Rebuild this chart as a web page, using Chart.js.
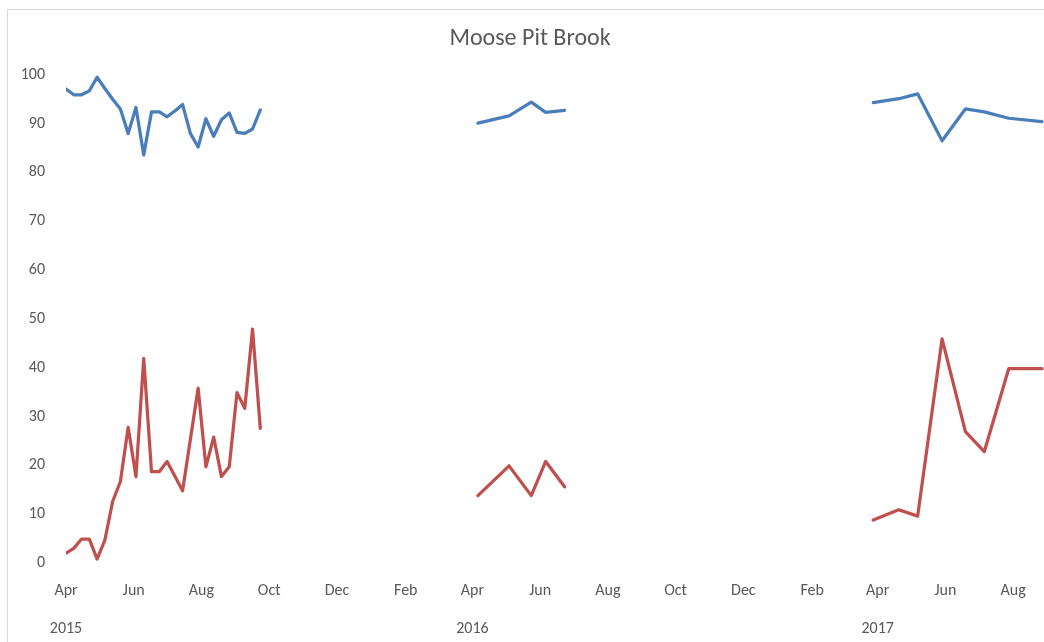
<!DOCTYPE html>
<html>
<head>
<meta charset="utf-8">
<title>Moose Pit Brook</title>
<script src="https://cdn.jsdelivr.net/npm/chart.js@4.4.1/dist/chart.umd.min.js"></script>
<style>
  html, body { margin: 0; padding: 0; background: #ffffff; overflow: hidden; }
  #frame { position: absolute; left: 7px; top: 9px; width: 1056px; height: 660px;
           border: 1px solid #d9d9d9; background: #ffffff; }
  #wrap { position: relative; width: 1056px; height: 632px; }
</style>
</head>
<body>
<div id="frame"><div id="wrap"><canvas id="c"></canvas></div></div>
<script>
// Sampling dates and readings, one block per field season
const dates2015 = ['2015-04-01','2015-04-08','2015-04-15','2015-04-22','2015-04-29',
                   '2015-05-06','2015-05-13','2015-05-20','2015-05-27','2015-06-03',
                   '2015-06-10','2015-06-17','2015-06-24','2015-07-01','2015-07-08',
                   '2015-07-15','2015-07-22','2015-07-29','2015-08-05','2015-08-12',
                   '2015-08-19','2015-08-26','2015-09-02','2015-09-09','2015-09-16',
                   '2015-09-23'];
const blue2015 = [97.1, 95.9, 95.9, 96.7, 99.5, 97.2, 95.0, 93.0, 88.0, 93.3,
                  83.6, 92.4, 92.4, 91.4, 92.6, 93.9, 88.0, 85.2, 91.0, 87.4,
                  90.8, 92.2, 88.2, 88.0, 88.9, 92.8];
const red2015  = [2.0, 3.0, 4.9, 4.9, 0.8, 4.7, 12.6, 16.7, 27.8, 17.7,
                  41.9, 18.7, 18.7, 20.8, 17.8, 14.8, 25.3, 35.8, 19.7, 25.8,
                  17.7, 19.7, 34.9, 31.7, 47.9, 27.6];

const dates2016 = ['2016-04-06','2016-05-04','2016-05-24','2016-06-06','2016-06-23'];
const blue2016  = [90.1, 91.6, 94.4, 92.3, 92.7];
const red2016   = [13.8, 19.9, 13.8, 20.8, 15.6];

const dates2017 = ['2017-03-28','2017-04-20','2017-05-07','2017-05-29',
                   '2017-06-19','2017-07-06','2017-07-28','2017-08-27'];
const blue2017  = [94.3, 95.1, 96.1, 86.5, 93.0, 92.4, 91.1, 90.4];
const red2017   = [8.8, 10.9, 9.6, 45.9, 26.9, 22.8, 39.8, 39.8];

// Axis tick positions and labels
const tickDates  = ['2015-04-01','2015-06-01','2015-08-01','2015-10-01','2015-12-01',
                    '2016-02-01','2016-04-01','2016-06-01','2016-08-01','2016-10-01',
                    '2016-12-01','2017-02-01','2017-04-01','2017-06-01','2017-08-01'];
const tickMonths = ['Apr','Jun','Aug','Oct','Dec','Feb','Apr','Jun','Aug','Oct','Dec','Feb','Apr','Jun','Aug'];
const tickYears  = ['2015','','','','','','2016','','','','','','2017','',''];
const axisStart = '2015-04-01';
const axisEnd   = '2017-09-05';

// Dates are plotted as whole days from the start of the axis
const DAY = 86400000;
function dayOf(s) {
  const [y, m, d] = s.split('-').map(Number);
  const [y0, m0, d0] = axisStart.split('-').map(Number);
  return Math.round((Date.UTC(y, m - 1, d) - Date.UTC(y0, m0 - 1, d0)) / DAY);
}

// Join the seasons into one series, with a break between seasons
function series(blocks) {
  const out = [];
  blocks.forEach(([dates, vals], bi) => {
    if (bi > 0) out.push({ x: dayOf(dates[0]) - 1, y: null });
    dates.forEach((d, i) => out.push({ x: dayOf(d), y: vals[i] }));
  });
  return out;
}

const blueSeries = series([[dates2015, blue2015], [dates2016, blue2016], [dates2017, blue2017]]);
const redSeries  = series([[dates2015, red2015],  [dates2016, red2016],  [dates2017, red2017]]);

const FONT = 'Carlito, Lato, "Open Sans", sans-serif';
const TEXT = '#595959';

new Chart(document.getElementById('c'), {
  type: 'line',
  data: {
    datasets: [
      { data: blueSeries, borderColor: '#4a7ebb', borderWidth: 3.25, tension: 0,
        pointRadius: 0, spanGaps: false, borderJoinStyle: 'round', borderCapStyle: 'round' },
      { data: redSeries, borderColor: '#c0504d', borderWidth: 3.25, tension: 0,
        pointRadius: 0, spanGaps: false, borderJoinStyle: 'round', borderCapStyle: 'round' }
    ]
  },
  options: {
    responsive: true,
    maintainAspectRatio: false,
    animation: false,
    events: [],
    layout: { padding: { left: 0, right: 12, top: 0, bottom: 0 } },
    plugins: {
      legend: { display: false },
      tooltip: { enabled: false },
      title: {
        display: true,
        text: 'Moose Pit Brook',
        color: TEXT,
        font: { family: FONT, size: 24, weight: 'normal', lineHeight: 1.2 },
        padding: { top: 15, bottom: 21 }
      }
    },
    scales: {
      x: {
        type: 'linear',
        min: dayOf(axisStart),
        max: dayOf(axisEnd),
        border: { display: false },
        grid: { display: false, drawTicks: false },
        afterBuildTicks: (scale) => { scale.ticks = tickDates.map(d => ({ value: dayOf(d) })); },
        afterFit: (scale) => { scale.height = 79; },
        ticks: {
          autoSkip: false,
          maxRotation: 0,
          padding: 18,
          color: TEXT,
          font: { family: FONT, size: 16, lineHeight: 1.2 },
          callback: (v, i) => tickYears[i] ? [tickMonths[i], '', tickYears[i]] : tickMonths[i]
        }
      },
      y: {
        min: 0,
        max: 100,
        border: { display: false },
        grid: { display: false, drawTicks: false },
        afterFit: (scale) => { scale.width = 58; },
        ticks: {
          stepSize: 10,
          padding: 21,
          color: TEXT,
          font: { family: FONT, size: 16 }
        }
      }
    }
  }
});
</script>
</body>
</html>
